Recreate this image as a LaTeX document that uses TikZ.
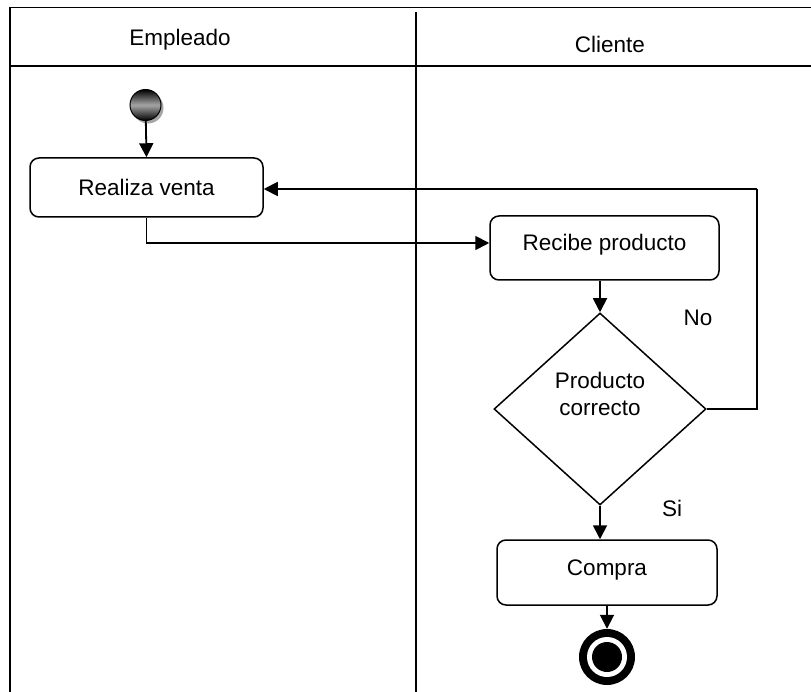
\documentclass[tikz,border=0pt]{standalone}
\usepackage{fontspec}
\setmainfont{Liberation Sans}
\usetikzlibrary{arrows.meta,shapes.geometric,shadows}
\begin{document}
\begin{tikzpicture}[x=1pt,y=-1pt,
  every node/.style={font=\fontsize{22.5}{27}\selectfont},
  frame/.style={line width=1.8pt},
  actbox/.style={draw, rounded corners=9pt, line width=1.5pt, inner sep=0pt},
  raised/.style={text height=16pt, text depth=10pt},
  conn/.style={line width=1.8pt, -{Triangle[length=14pt,width=14pt]}},
  plain/.style={line width=1.8pt}]
\useasboundingbox (0,0) rectangle (811,692);
% frame
\draw[frame] (811,7.5) -- (10,7.5) -- (10,692);
\draw[frame] (10,66) -- (811,66);
\draw[frame] (416,12) -- (416,692);
\node (hemp) at (180,40) {Empleado};
\node (hcli) at (610,44) {Cliente};
% start
\node[circle, draw=black, line width=1pt, minimum size=31pt, inner sep=0pt,
  top color=black, bottom color=black, middle color=gray!70,
  drop shadow={shadow xshift=2.5pt, shadow yshift=-3pt, fill=gray!70, opacity=1}] (start) at (145.5,105) {};
% activities
\node[actbox, minimum width=233pt, minimum height=59pt] (realiza) at (146.5,187.5) {Realiza venta};
\node[actbox, raised, minimum width=229pt, minimum height=64pt] (recibe) at (604.5,248) {Recibe producto};
\node[diamond, draw, line width=1.5pt, inner sep=0pt, aspect=1.104, minimum width=212pt, minimum height=192pt] (dia) at (600,409) {};
\node[align=center] (diatext) at (600,394) {Producto\\correcto};
\node[actbox, raised, minimum width=220pt, minimum height=65pt] (compra) at (607,572.5) {Compra};
% end
\node[circle, fill=black, minimum size=56pt, inner sep=0pt] (fin) at (607,657) {};
\fill[white] (fin.center) circle (20pt);
\fill[black] (fin.center) circle (15pt);
% labels
\node (no) at (698,318) {No};
\node (si) at (672,508) {Si};
% connectors
\draw[conn] (start) -- (realiza.north);
\draw[conn] (realiza.south) |- ([yshift=5pt]recibe.west);
\draw[conn] (dia.north |- recibe.south) -- (dia.north);
\coordinate (fb) at (757,189);
\draw[plain] (dia.east) -| (fb);
\draw[conn] (fb) -- (realiza.east |- fb);
\draw[conn] (dia.south) -- (dia.south |- compra.north);
\draw[conn] (compra.south) -- (fin.north);
\end{tikzpicture}
\end{document}
